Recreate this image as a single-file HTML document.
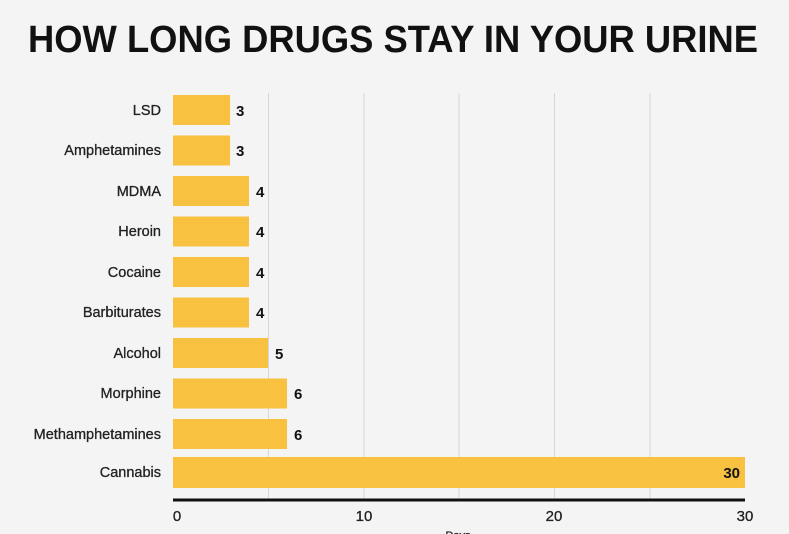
<!DOCTYPE html>
<html><head><style>
html,body{margin:0;padding:0;background:#f4f4f4;}
svg{display:block;font-family:"Liberation Sans",sans-serif;}
</style></head><body>
<svg width="789" height="534" viewBox="0 0 789 534">
<rect width="789" height="534" fill="#f4f4f4"/>
<text x="393" y="52" text-anchor="middle" font-size="38" font-weight="bold" fill="#111" textLength="730" lengthAdjust="spacingAndGlyphs">HOW LONG DRUGS STAY IN YOUR URINE</text>
<g stroke="#d6d6d6" stroke-width="1">
<line x1="268.5" y1="93" x2="268.5" y2="498"/>
<line x1="364" y1="93" x2="364" y2="498"/>
<line x1="459" y1="93" x2="459" y2="498"/>
<line x1="554.5" y1="93" x2="554.5" y2="498"/>
<line x1="650" y1="93" x2="650" y2="498"/>
</g>
<g fill="#f8c140">
<rect x="173" y="95" width="57" height="30"/>
<rect x="173" y="135.5" width="57" height="30"/>
<rect x="173" y="176" width="76" height="30"/>
<rect x="173" y="216.5" width="76" height="30"/>
<rect x="173" y="257" width="76" height="30"/>
<rect x="173" y="297.5" width="76" height="30"/>
<rect x="173" y="338" width="95" height="30"/>
<rect x="173" y="378.5" width="114" height="30"/>
<rect x="173" y="419" width="114" height="30"/>
<rect x="173" y="457" width="572" height="31"/>
</g>
<g font-size="14.5" fill="#222" text-anchor="end" stroke="#222" stroke-width="0.3">
<text x="161" y="115">LSD</text>
<text x="161" y="155">Amphetamines</text>
<text x="161" y="196">MDMA</text>
<text x="161" y="236">Heroin</text>
<text x="161" y="277">Cocaine</text>
<text x="161" y="317">Barbiturates</text>
<text x="161" y="358">Alcohol</text>
<text x="161" y="398">Morphine</text>
<text x="161" y="439">Methamphetamines</text>
<text x="161" y="477">Cannabis</text>
</g>
<g font-size="15" font-weight="bold" fill="#111">
<text x="236" y="116">3</text>
<text x="236" y="156">3</text>
<text x="256" y="197">4</text>
<text x="256" y="237">4</text>
<text x="256" y="278">4</text>
<text x="256" y="318">4</text>
<text x="275" y="359">5</text>
<text x="294" y="399">6</text>
<text x="294" y="440">6</text>
<text x="740" y="478" text-anchor="end">30</text>
</g>
<line x1="173" y1="500" x2="745" y2="500" stroke="#111" stroke-width="3"/>
<g font-size="15" fill="#222" text-anchor="middle" stroke="#222" stroke-width="0.3">
<text x="177" y="521">0</text>
<text x="364" y="521">10</text>
<text x="554" y="521">20</text>
<text x="745" y="521">30</text>
<text x="458" y="539" font-size="11">Days</text>
</g>
</svg>
</body></html>
